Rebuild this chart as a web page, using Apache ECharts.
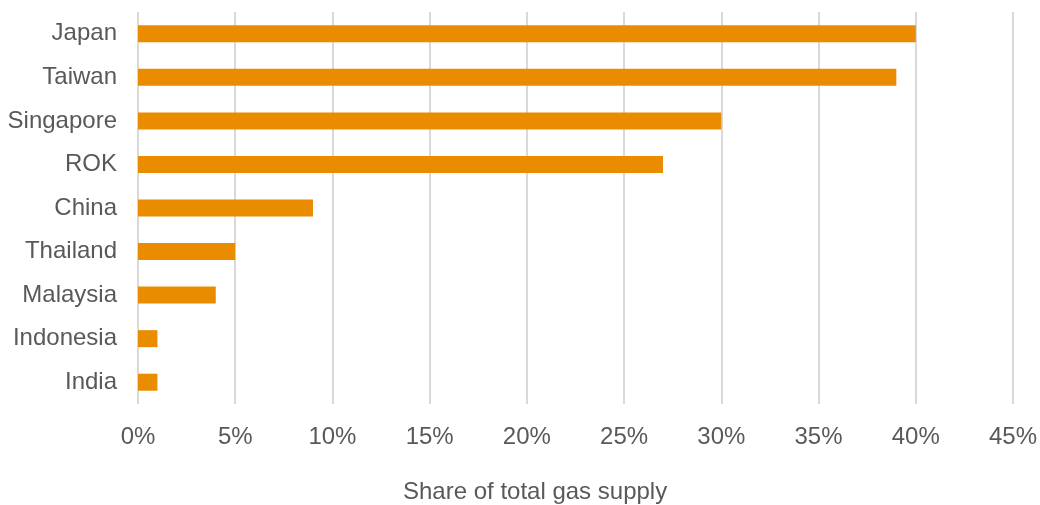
<!DOCTYPE html>
<html><head><meta charset="utf-8">
<script src="https://cdn.jsdelivr.net/npm/echarts@6/dist/echarts.min.js"></script>
<style>html,body{margin:0;padding:0;background:#fff}#c{width:1040px;height:505px}</style>
</head><body><div id="c"></div>
<script>
const categories = ['Japan','Taiwan','Singapore','ROK','China','Thailand','Malaysia','Indonesia','India'];
const shares = [40, 39, 30, 27, 9, 5, 4, 1, 1];
const axisTitle = 'Share of total gas supply';

const chart = echarts.init(document.getElementById('c'), null, {renderer:'canvas'});
const font = '"Liberation Sans", Arial, sans-serif';
chart.setOption({
  animation: false,
  grid: {left: 138, right: 27, top: 12, bottom: 101, containLabel: false},
  xAxis: {
    type: 'value', min: 0, max: 45, interval: 5,
    axisLine: {show: false}, axisTick: {show: false},
    splitLine: {show: true, lineStyle: {color: '#d9d9d9', width: 2}},
    axisLabel: {formatter: '{value}%', color: '#595959', fontSize: 24, fontFamily: font, margin: 21}
  },
  yAxis: {
    type: 'category', data: categories, inverse: true,
    axisLine: {show: false}, axisTick: {show: false},
    axisLabel: {color: '#595959', fontSize: 24, fontFamily: font, margin: 21, padding: [4, 0, 0, 0]}
  },
  graphic: [{
    type: 'text', left: 403, top: 480,
    style: {text: axisTitle, fill: '#595959', font: '24px ' + font}
  }],
  series: [{
    type: 'bar', data: shares, barWidth: 17,
    itemStyle: {color: '#EA8C00'}
  }]
});
</script></body></html>
